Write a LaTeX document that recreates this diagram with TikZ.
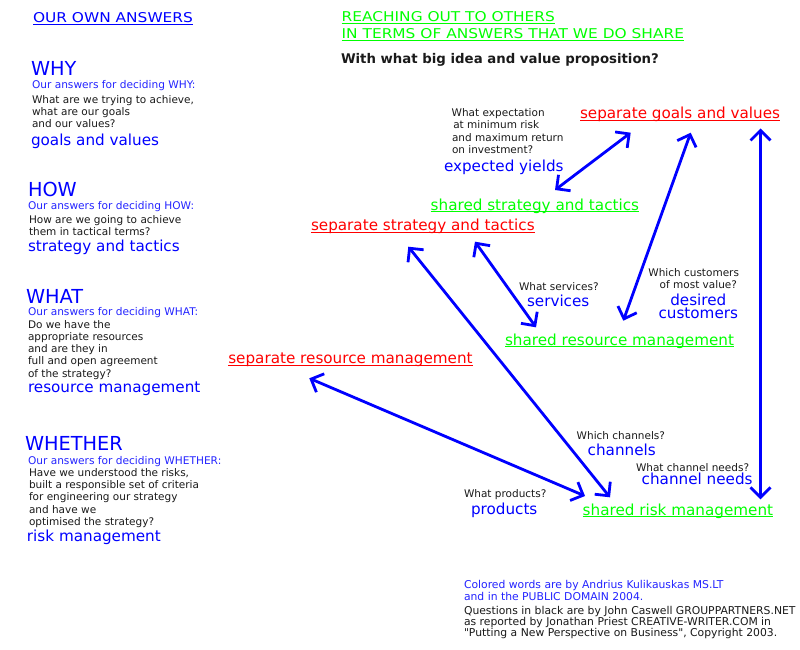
\documentclass[tikz,border=0pt]{standalone}
\usepackage{fontspec}
\setmainfont{DejaVu Sans}
\newfontfamily\capsfont[FakeStretch=1.14]{DejaVu Sans}
\usetikzlibrary{arrows.meta}
\definecolor{tblue}{HTML}{0000FF}
\definecolor{sblue}{HTML}{2424FF}
\definecolor{tred}{HTML}{FF0000}
\definecolor{tgreen}{HTML}{00FF00}
\definecolor{tblack}{HTML}{1A1A1A}
\newcommand\ulx[1]{\setbox0=\hbox{#1}\rlap{\rule[-2.4pt]{\wd0}{1.1pt}}\box0}
\begin{document}
\begin{tikzpicture}[x=1pt,y=-1pt,
  every node/.style={inner sep=0pt, outer sep=0pt, anchor=base west},
  head/.style={font=\fontsize{19.3}{22}\selectfont, text=tblue},
  sub/.style={font=\fontsize{10.6}{12}\selectfont, text=sblue},
  ques/.style={font=\fontsize{10.5}{12}\selectfont, text=tblack},
  foot/.style={font=\fontsize{10.8}{12}\selectfont},
  lab/.style={font=\fontsize{15.2}{17}\selectfont, text=tblue},
  seplab/.style={font=\fontsize{15.2}{17}\selectfont, text=tred},
  shrlab/.style={font=\fontsize{15.2}{17}\selectfont, text=tgreen},
  capt/.style={font=\fontsize{13.5}{15}\capsfont},
  link/.style={draw=tblue, line width=2.8pt,
    {Straight Barb[length=10pt,width=20pt]}-{Straight Barb[length=10pt,width=20pt]}}]
\fill[white] (0,0) rectangle (800,650);
\useasboundingbox (0,0) rectangle (800,650);

% ---------- left column ----------
\node[capt, text=tblue] (own) at (33,22.5) {\ulx{OUR OWN ANSWERS}};

\node[head] (why) at (31,76) {WHY};
\node[sub] (whysub) at (32,88.3) {Our answers for deciding WHY:};
\foreach \t [count=\i] in {{What are we trying to achieve,},{what are our goals},{and our values?}}
  \node[ques] (whyq\i) at (32,{103.3+(\i-1)*12}) {\t};
\node[lab] (whylab) at (31,146) {goals and values};

\node[head] (how) at (28,196.7) {HOW};
\node[sub] (howsub) at (28,209) {Our answers for deciding HOW:};
\foreach \t [count=\i] in {{How are we going to achieve},{them in tactical terms?}}
  \node[ques] (howq\i) at (29,{223.5+(\i-1)*12}) {\t};
\node[lab] (howlab) at (28,251) {strategy and tactics};

\node[head] (what) at (26,303) {WHAT};
\node[sub] (whatsub) at (28,315.7) {Our answers for deciding WHAT:};
\foreach \t [count=\i] in {{Do we have the},{appropriate resources},{and are they in},{full and open agreement},{of the strategy?}}
  \node[ques] (whatq\i) at (28,{328.3+(\i-1)*12.2}) {\t};
\node[lab] (whatlab) at (28,392.7) {resource management};

\node[head] (whether) at (25,450) {WHETHER};
\node[sub] (whethersub) at (28,464) {Our answers for deciding WHETHER:};
\foreach \t [count=\i] in {{Have we understood the risks,},{built a responsible set of criteria},{for engineering our strategy},{and have we},{optimised the strategy?}}
  \node[ques] (whetherq\i) at (29,{476.7+(\i-1)*12.1}) {\t};
\node[lab] (whetherlab) at (27,541.7) {risk management};

% ---------- right side ----------
\node[capt, text=tgreen] (reach1) at (341.7,21.7) {\ulx{REACHING OUT TO OTHERS}};
\node[capt, text=tgreen] (reach2) at (341.7,38.3) {\ulx{IN TERMS OF ANSWERS THAT WE DO SHARE}};
\node[font=\fontsize{13.3}{15}\selectfont\bfseries, text=tblack] (bigidea) at (341,63.3) {With what big idea and value proposition?};

\node[ques] (expq1) at (451.7,116.7) {What expectation};
\node[ques] (expq2) at (453.3,128.9) {at minimum risk};
\node[ques] (expq3) at (452,141.1) {and maximum return};
\node[ques] (expq4) at (452,153.3) {on investment?};
\node[lab] (explab) at (444,171.7) {expected yields};

\node[seplab] (sepgoals) at (580,118.3) {\ulx{separate goals and values}};
\node[shrlab] (shstrat) at (430.7,210) {\ulx{shared strategy and tactics}};
\node[seplab] (sepstrat) at (311,230.7) {\ulx{separate strategy and tactics}};

\node[ques] (servq) at (519,290.7) {What services?};
\node[lab] (servlab) at (527,306.7) {services};

\node[ques, anchor=base east] (custq1) at (739,276.7) {Which customers};
\node[ques, anchor=base east] (custq2) at (737,288.3) {of most value?};
\node[lab, anchor=north, align=center, font=\fontsize{15.2}{13.2}\selectfont] (custlab) at (698.3,294.2) {desired\\customers};

\node[shrlab] (shres) at (505,345) {\ulx{shared resource management}};
\node[seplab] (sepres) at (228.3,363.3) {\ulx{separate resource management}};

\node[ques] (chq) at (576.7,439.3) {Which channels?};
\node[lab] (chlab) at (587.7,455) {channels};
\node[ques] (cnq) at (636,471) {What channel needs?};
\node[lab] (cnlab) at (641.7,484.3) {channel needs};
\node[ques] (prq) at (464,497) {What products?};
\node[lab] (prlab) at (471,514) {products};
\node[shrlab] (shrisk) at (582.7,515) {\ulx{shared risk management}};

% ---------- footer ----------
\node[foot, text=sblue] (f1) at (464,588.3) {Colored words are by Andrius Kulikauskas MS.LT};
\node[foot, text=sblue] (f2) at (464,600.7) {and in the PUBLIC DOMAIN 2004.};
\node[foot, text=tblack] (f3) at (464,614.3) {Questions in black are by John Caswell GROUPPARTNERS.NET};
\node[foot, text=tblack] (f4) at (464,625.7) {as reported by Jonathan Priest CREATIVE-WRITER.COM in};
\node[foot, text=tblack] (f5) at (464,636.7) {\textquotedbl Putting a New Perspective on Business\textquotedbl, Copyright 2003.};

% ---------- arrows ----------
\coordinate (a1s) at (555,190);     \coordinate (a1e) at (630.7,132.7);
\coordinate (a2s) at (623.3,320.7); \coordinate (a2e) at (690.7,132.7);
\coordinate (a3s) at (760.5,499.3); \coordinate (a3e) at (760.5,128.5);
\coordinate (a4s) at (475,241.7);   \coordinate (a4e) at (536,327.3);
\coordinate (a5s) at (408.3,246.7); \coordinate (a5e) at (610,497.3);
\coordinate (a6s) at (309.3,378.3); \coordinate (a6e) at (585,496);
\draw[link] (a1s) -- (a1e);
\draw[link] (a2s) -- (a2e);
\draw[link] (a3s) -- (a3e);
\draw[link] (a4s) -- (a4e);
\draw[link] (a5s) -- (a5e);
\draw[link] (a6s) -- (a6e);
\end{tikzpicture}
\end{document}
